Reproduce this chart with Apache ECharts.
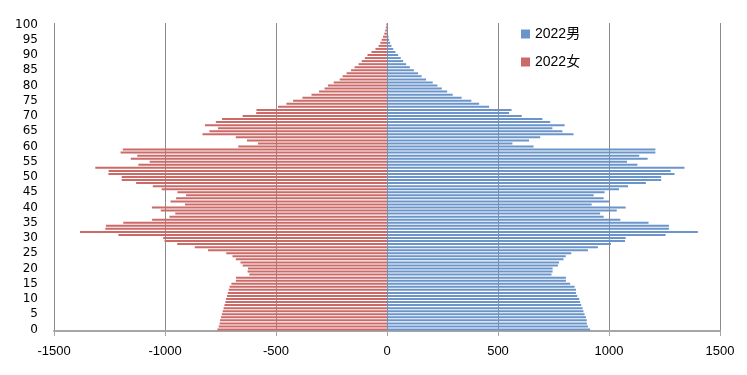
<!DOCTYPE html>
<html>
<head>
<meta charset="utf-8">
<script src="https://cdn.jsdelivr.net/npm/echarts@6/dist/echarts.min.js"></script>
<style>
html,body{margin:0;padding:0;background:#fff;}
#chart{width:747px;height:375px;}
</style>
</head>
<body>
<div id="chart"></div>
<script>
// Age categories 0..100
const ages = [];
for (let a = 0; a <= 100; a++) ages.push(String(a));

const seriesNames = ['2022男', '2022女'];

// Male population by age 0..100 (positive)
const male = [
  915, 905, 900, 900, 896, 890, 885, 881, 875, 870,
  866, 857, 851, 851, 845, 825, 806, 806, 741, 746,
  746, 770, 775, 795, 805, 830, 905, 950, 1009, 1072,
  1075, 1255, 1400, 1270, 1270, 1178, 1051, 976, 960, 1035,
  1075, 922, 1002, 976, 931, 980, 1045, 1086, 1166, 1235,
  1235, 1295, 1278, 1340, 1128, 1081, 1174, 1136, 1209, 1209,
  660, 565, 640, 690, 840, 790, 745, 800, 735, 700,
  607, 550, 561, 460, 415, 380, 336, 296, 271, 247,
  227, 206, 176, 156, 140, 121, 103, 86, 73, 62,
  50, 38, 28, 20, 14, 10, 7, 5, 3, 2,
  2
];

// Female population by age 0..100 (negative, drawn to the left)
const female = [
  -764, -758, -754, -752, -748, -744, -740, -736, -732, -728,
  -725, -721, -717, -713, -709, -701, -681, -680, -620, -628,
  -626, -650, -660, -681, -696, -724, -806, -866, -945, -1002,
  -1008, -1210, -1383, -1269, -1266, -1188, -1058, -980, -954, -1019,
  -1059, -910, -975, -950, -905, -944, -1015, -1055, -1130, -1195,
  -1195, -1255, -1254, -1314, -1120, -1069, -1154, -1125, -1200, -1190,
  -670, -581, -631, -681, -831, -800, -761, -820, -771, -743,
  -650, -589, -588, -491, -453, -423, -381, -340, -306, -281,
  -266, -240, -213, -200, -182, -162, -146, -128, -114, -100,
  -88, -70, -52, -38, -30, -24, -18, -12, -8, -5,
  -3
];

const xTicks = { min: -1500, max: 1500, step: 500 };

const chart = echarts.init(document.getElementById('chart'), null, { renderer: 'canvas' });
chart.setOption({
  backgroundColor: '#ffffff',
  animation: false,
  grid: { left: 54, right: 27, top: 23, bottom: 44, containLabel: false },
  legend: {
    orient: 'vertical',
    left: 516,
    top: 22,
    itemWidth: 9,
    itemHeight: 9,
    itemGap: 14,
    icon: 'rect',
    data: seriesNames,
    textStyle: { fontSize: 14, color: '#000', fontFamily: 'Liberation Sans, Noto Sans CJK SC, sans-serif' }
  },
  xAxis: {
    type: 'value',
    min: xTicks.min,
    max: xTicks.max,
    interval: xTicks.step,
    axisLine: { show: true, onZero: false, lineStyle: { color: '#a6a6a6', width: 2 } },
    axisTick: { show: true, length: 5, lineStyle: { color: '#a6a6a6' } },
    axisLabel: {
      color: '#000', fontSize: 13, margin: 14, fontFamily: 'Liberation Sans, sans-serif',
      formatter: function (v) { return String(v); }
    },
    splitLine: { show: true, lineStyle: { color: '#8c8c8c', width: 1 } }
  },
  yAxis: {
    type: 'category',
    data: ages,
    axisLine: { show: false },
    axisTick: { show: false },
    axisLabel: { interval: 4, color: '#000', fontSize: 12, margin: 16, fontFamily: 'DejaVu Sans, sans-serif' },
    splitLine: { show: false }
  },
  series: [
    {
      name: seriesNames[0],
      type: 'bar',
      data: male,
      barWidth: 2,
      barGap: '-100%',
      itemStyle: { color: '#6a94ca' }
    },
    {
      name: seriesNames[1],
      type: 'bar',
      data: female,
      barWidth: 2,
      barGap: '-100%',
      itemStyle: { color: '#cc6a67' }
    }
  ]
});
</script>
</body>
</html>
